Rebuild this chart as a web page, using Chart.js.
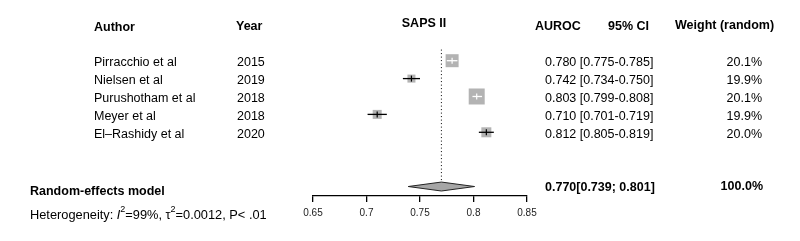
<!DOCTYPE html>
<html>
<head>
<meta charset="utf-8">
<script src="https://cdn.jsdelivr.net/npm/chart.js@4"></script>
<style>
  html, body { margin: 0; padding: 0; background: #fff; }
  #wrap { width: 800px; height: 241px; }
</style>
</head>
<body>
<div id="wrap"><canvas id="forest" width="800" height="241"></canvas></div>
<script>
// study data
var authors = ['Pirracchio et al', 'Nielsen et al', 'Purushotham et al', 'Meyer et al', 'El\u2013Rashidy et al'];
var years = [2015, 2019, 2018, 2018, 2020];
var auroc = [0.780, 0.742, 0.803, 0.710, 0.812];
var ciLow = [0.775, 0.734, 0.799, 0.701, 0.805];
var ciHigh = [0.785, 0.750, 0.808, 0.719, 0.819];
var weights = [20.1, 19.9, 20.1, 19.9, 20.0];

// random-effects model
var pooledEst = 0.770;
var pooledLow = 0.739;
var pooledHigh = 0.801;
var pooledWeight = 100.0;

var xTicks = [0.65, 0.7, 0.75, 0.8, 0.85];

// drawing style only
var boxSide = [13, 8, 16, 9, 10];
var diamondRow = 7.03;
var diamondHalf = 0.25;
var FONT = '"Liberation Sans", Arial, Helvetica, sans-serif';

function fmt(v) { return v.toFixed(3); }

var datasets = [];

// confidence interval lines + estimate tick (white when inside the box)
for (var i = 0; i < auroc.length; i++) {
    var inside = (ciHigh[i] - ciLow[i]) * 1070 < boxSide[i];
    var col = inside ? '#ffffff' : '#000000';
    datasets.push({
        type: 'scatter',
        data: [{x: ciLow[i], y: i}, {x: ciHigh[i], y: i}],
        showLine: true,
        borderColor: col,
        borderWidth: 1.3,
        pointRadius: 0,
        order: 1
    });
    datasets.push({
        type: 'scatter',
        data: [{x: auroc[i], y: i}],
        pointStyle: 'line',
        rotation: 90,
        pointRadius: 3,
        borderColor: col,
        borderWidth: 1.2,
        order: 1
    });
}

// weight boxes
datasets.push({
    type: 'scatter',
    data: auroc.map(function(v, i) { return {x: v, y: i}; }),
    pointStyle: 'rect',
    pointRadius: boxSide.map(function(s) { return s / Math.SQRT2; }),
    backgroundColor: '#b3b3b3',
    borderWidth: 0,
    order: 3
});

// dotted line at pooled estimate
datasets.push({
    type: 'scatter',
    data: [{x: pooledEst, y: -0.62}, {x: pooledEst, y: diamondRow - diamondHalf}],
    showLine: true,
    borderColor: '#000',
    borderWidth: 1,
    borderDash: [1, 2.5],
    pointRadius: 0,
    order: 2
});

// pooled diamond
datasets.push({
    type: 'scatter',
    data: [
        {x: pooledLow, y: diamondRow},
        {x: pooledEst, y: diamondRow - diamondHalf},
        {x: pooledHigh, y: diamondRow},
        {x: pooledEst, y: diamondRow + diamondHalf},
        {x: pooledLow, y: diamondRow}
    ],
    showLine: true,
    fill: 'shape',
    backgroundColor: '#a6a6a6',
    borderColor: '#222',
    borderWidth: 1,
    pointRadius: 0,
    order: 0
});

var textPlugin = {
    id: 'forestText',
    afterDraw: function(chart) {
        var ctx = chart.ctx;
        var ys = chart.scales.y;
        ctx.save();
        ctx.fillStyle = '#000';
        ctx.textBaseline = 'middle';

        // headers
        ctx.font = 'bold 12.5px ' + FONT;
        ctx.textAlign = 'left';
        ctx.fillText('Author', 94, 28);
        ctx.fillText('Year', 236, 27);
        ctx.fillText('AUROC', 535, 27);
        ctx.fillText('95% CI', 608, 27);
        ctx.fillText('Weight (random)', 675, 26);
        ctx.textAlign = 'center';
        ctx.fillText('SAPS II', 424, 24);

        // study rows
        ctx.font = '12.5px ' + FONT;
        for (var i = 0; i < authors.length; i++) {
            var y = ys.getPixelForValue(i) + 2;
            ctx.textAlign = 'left';
            ctx.fillText(authors[i], 94, y);
            ctx.fillText(String(years[i]), 237, y);
            ctx.fillText(fmt(auroc[i]) + ' [' + fmt(ciLow[i]) + '-' + fmt(ciHigh[i]) + ']', 545, y);
            ctx.textAlign = 'right';
            ctx.fillText(weights[i].toFixed(1) + '%', 762, y);
        }

        // pooled row
        ctx.font = 'bold 12.5px ' + FONT;
        ctx.textAlign = 'left';
        ctx.fillText('Random-effects model', 30, 192);
        ctx.fillText(fmt(pooledEst) + '[' + fmt(pooledLow) + '; ' + fmt(pooledHigh) + ']', 545, 188);
        ctx.textAlign = 'right';
        ctx.fillText(pooledWeight.toFixed(1) + '%', 763, 187);

        // heterogeneity line
        ctx.textAlign = 'left';
        var x = 30, hy = 215;
        var parts = [
            ['Heterogeneity: ', '12.8px', 0],
            ['I', 'italic 12.8px', 0],
            ['2', '9px', -5],
            ['=99%, ', '12.8px', 0],
            ['\u03c4', '12.8px', 0],
            ['2', '9px', -5],
            ['=0.0012, P< .01', '12.8px', 0]
        ];
        parts.forEach(function(p) {
            ctx.font = p[1] + ' ' + FONT;
            ctx.fillText(p[0], x, hy + p[2]);
            x += ctx.measureText(p[0]).width;
        });
        ctx.restore();
    }
};

new Chart(document.getElementById('forest'), {
    type: 'scatter',
    data: { datasets: datasets },
    options: {
        responsive: false,
        animation: false,
        events: [],
        layout: { padding: { left: 313, right: 273, top: 40, bottom: 0 } },
        plugins: { legend: { display: false }, tooltip: { enabled: false } },
        scales: {
            x: {
                type: 'linear',
                min: xTicks[0],
                max: xTicks[xTicks.length - 1],
                afterBuildTicks: function(s) { s.ticks = xTicks.map(function(v) { return {value: v}; }); },
                afterFit: function(s) { s.height = 45; },
                border: { display: true, color: '#000', width: 1.3 },
                grid: { drawOnChartArea: false, drawTicks: true, tickLength: 6, color: '#000', lineWidth: 1.3 },
                ticks: {
                    color: '#222',
                    font: { family: FONT, size: 10 },
                    padding: 5,
                    maxRotation: 0,
                    callback: function(v) { return String(+v.toFixed(2)); }
                }
            },
            y: {
                type: 'linear',
                display: false,
                reverse: true,
                min: -1.156,
                max: 7.559
            }
        }
    },
    plugins: [textPlugin]
});
</script>
</body>
</html>
